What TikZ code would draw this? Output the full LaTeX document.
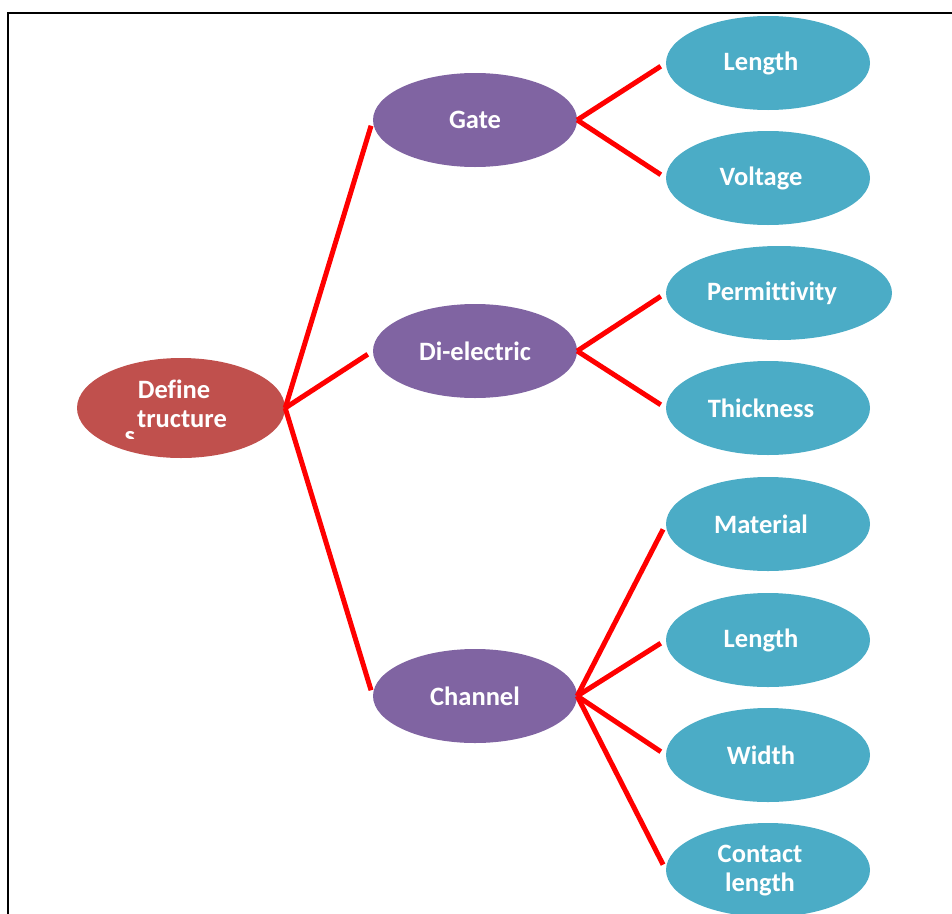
\documentclass[tikz,border=0pt]{standalone}
\usepackage{fontspec}
\setmainfont{Carlito}[Ligatures={NoCommon}]
\usetikzlibrary{shapes.geometric}
\definecolor{rootred}{HTML}{C0504D}
\definecolor{midpurple}{HTML}{8064A2}
\definecolor{leafblue}{HTML}{4BACC6}
\tikzset{
  bub/.style={ellipse, inner sep=0pt, text=white, align=center,
    font=\fontsize{26.5}{29}\selectfont\bfseries},
  rootnode/.style={bub, fill=rootred, minimum width=208pt, minimum height=100pt},
  midnode/.style={bub, fill=midpurple, minimum width=204pt, minimum height=94pt},
  leafnode/.style={bub, fill=leafblue, minimum width=204pt, minimum height=94pt,
    execute at end node={\hspace{14pt}}},
  link/.style={draw=red, line width=5pt, shorten >=6pt},
  frameline/.style={draw=black, line width=2pt}
}
\begin{document}
\begin{tikzpicture}[x=1pt,y=-1pt]
\useasboundingbox (0,0) rectangle (952,913);
\draw[frameline] (8,914) -- (8,13) -- (953,13);

\node[rootnode] (def) at (181,408) {};
\node[bub, anchor=base] (deftxt1) at (174,398) {Define};
\node[bub, anchor=base] (deftxt2) at (182,427) {tructure};
\begin{scope}
  \clip (118,428) rectangle (142,438);
  \node[bub, anchor=base] (defs) at (130,444) {s};
\end{scope}

\node[midnode] (gate) at (475,120) {Gate};
\node[midnode] (diel) at (475,351) {Di-electric};
\node[midnode] (chan) at (475,696) {Channel};

\node[leafnode] (glen) at (768,63) {Length};
\node[leafnode] (gvol) at (768,178) {Voltage};
\node[leafnode, minimum width=226pt] (perm) at (779,293) {Permittivity};
\node[leafnode] (thick) at (768,408) {Thickness};
\node[leafnode] (mat) at (768,524) {Material};
\node[leafnode] (clen) at (768,640) {Length};
\node[leafnode] (wid) at (768,755) {Width};
\node[leafnode] (cont) at (768,870) {};
\node[bub, anchor=base] (conttxt1) at (760,862) {Contact};
\node[bub, anchor=base] (conttxt2) at (760,891) {length};

\draw[link] (def.east) -- (gate.west);
\draw[link] (def.east) -- (diel.west);
\draw[link] (def.east) -- (chan.west);
\draw[link] (gate.east) -- (glen.west);
\draw[link] (gate.east) -- (gvol.west);
\draw[link] (diel.east) -- (perm.west);
\draw[link] (diel.east) -- (thick.west);
\draw[link] (chan.east) -- (mat.west);
\draw[link] (chan.east) -- (clen.west);
\draw[link] (chan.east) -- (wid.west);
\draw[link] (chan.east) -- (cont.west);
\end{tikzpicture}
\end{document}
